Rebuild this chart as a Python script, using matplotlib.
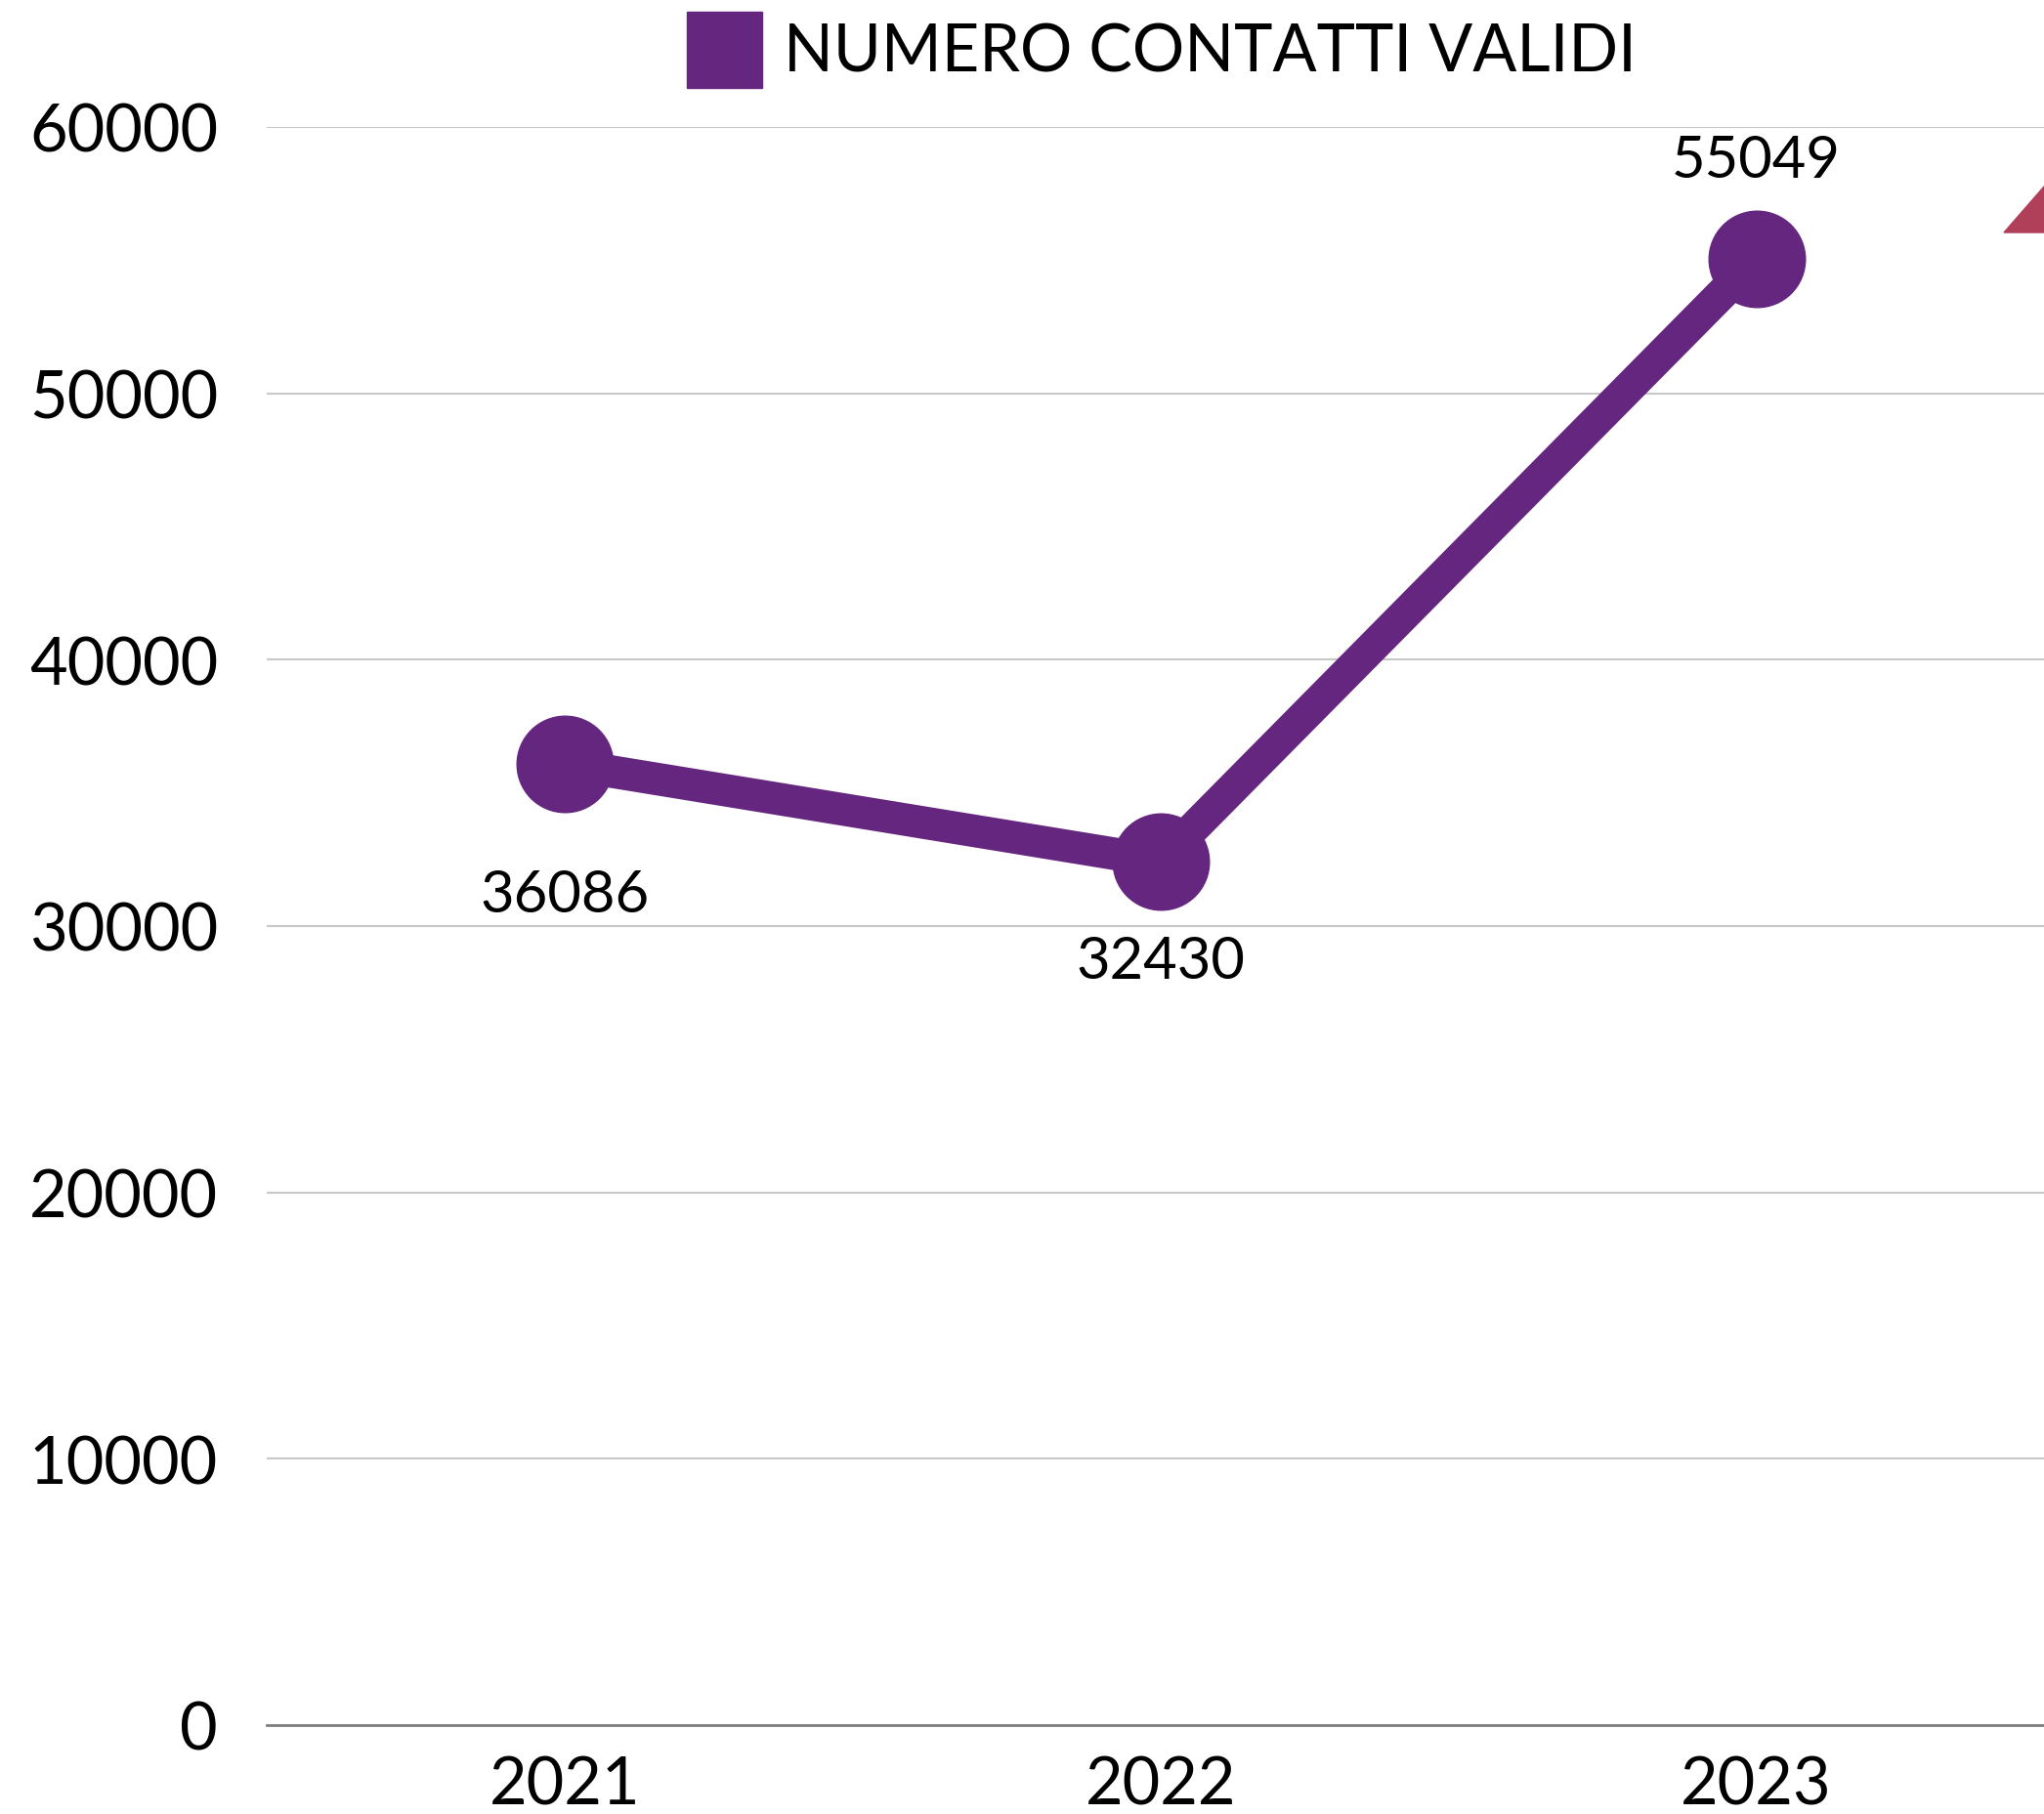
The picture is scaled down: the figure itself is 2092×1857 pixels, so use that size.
import matplotlib
matplotlib.use("Agg")

import matplotlib.pyplot as plt
from matplotlib.patches import Polygon, Rectangle

plt.rcParams['font.family'] = ['Lato', 'DejaVu Sans']

# data
anni = ["2021", "2022", "2023"]
contatti = [36086, 32430, 55049]
label_offset = [-134, -102, 101]   # px offset of value labels (below / above)
serie = "NUMERO CONTATTI VALIDI"

VIOLA = "#65267f"
ROSSO = "#b03f5a"

W, H = 2092, 1858
fig = plt.figure(figsize=(W / 100, H / 100), dpi=100)
ax = fig.add_axes([0.1305, 0.049, 0.8745, 0.8805])

x = list(range(len(anni)))
ax.plot(x, contatti, color=VIOLA, lw=24, marker="o", markersize=71,
        solid_capstyle="butt", zorder=3)

for xi, v, off in zip(x, contatti, label_offset):
    ax.annotate(str(v), (xi, v), xytext=(0, off * 0.72), textcoords="offset points",
                ha="center", va="center", fontsize=43, color="black")

ax.set_xlim(-0.5, 2.5)
ax.set_ylim(0, 60000)
ax.set_yticks(range(0, 60001, 10000))
ax.set_xticks(x)
ax.set_xticklabels(anni)
ax.tick_params(axis="both", length=0, labelsize=48)
ax.tick_params(axis="y", pad=36)
ax.tick_params(axis="x", pad=22)

ax.grid(axis="y", color="#c8c8c8", lw=1.5)
ax.set_axisbelow(True)
for s in ["top", "right", "left"]:
    ax.spines[s].set_visible(False)
ax.spines["bottom"].set_color("#808080")
ax.spines["bottom"].set_linewidth(2)

# legend drawn by hand: square + text at the top
fig.patches.append(Rectangle((703 / W, 1 - 91 / H), 77 / W, 78 / H, color=VIOLA,
                             transform=fig.transFigure))
fig.text(802 / W, 1 - 54 / H, serie, fontsize=48, ha="left", va="center")

# red shape cut off at the right edge
tri = Polygon([[2051 / W, 1 - 239 / H], [2140 / W, 1 - 137 / H], [2140 / W, 1 - 239 / H]],
              closed=True, color=ROSSO, transform=fig.transFigure, clip_on=False)
fig.patches.append(tri)

fig.savefig("out.png", dpi=100)
